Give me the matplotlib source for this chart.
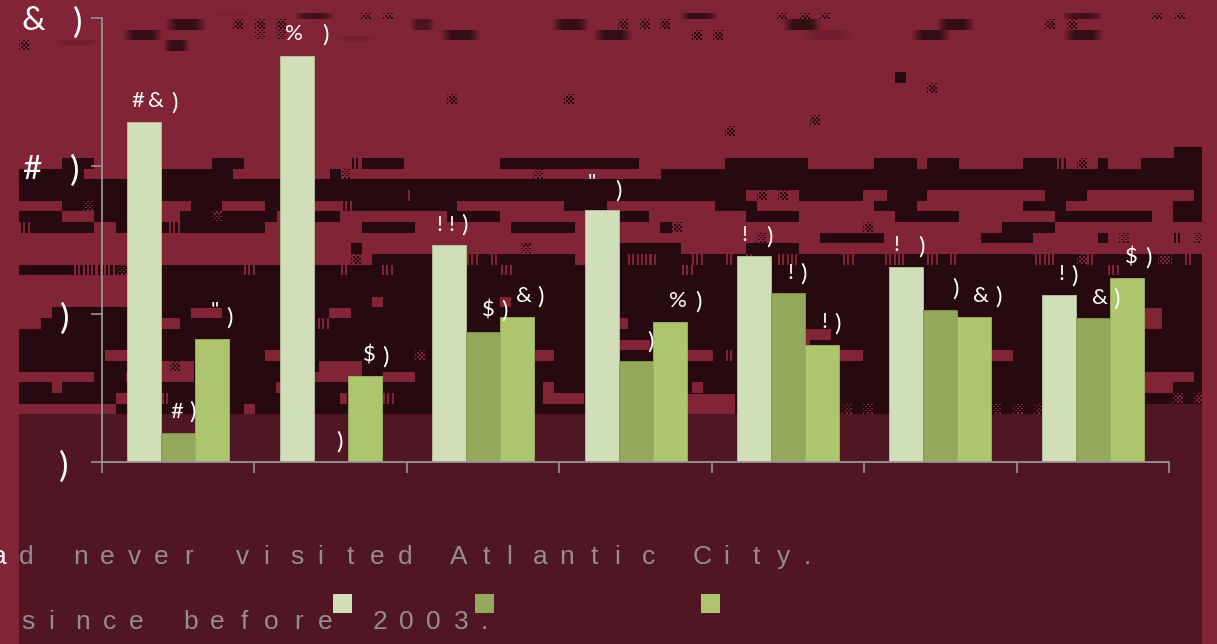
import numpy as np
import matplotlib
matplotlib.use("Agg")
import matplotlib.pyplot as plt
from matplotlib.patches import Rectangle
from matplotlib.collections import PatchCollection

# ---------- chart data (glyphs are shown garbled in the source) ----------
groups = list(range(7))
series_a = [22.95, 27.4, 14.65, 17.0, 13.9, 13.2, 11.3]
series_b = [1.95, 0.0, 8.8, 6.8, 11.4, 10.3, 9.7]
series_c = [8.3, 5.8, 9.8, 9.45, 7.9, 9.8, 12.4]
y_ticks = [0, 10, 20, 30]
caption_1 = "d never visited Atlantic City."
caption_2 = "since before 2003."

# ---------- styles ----------
CRIMSON, DARK, MAROON = "#812435", "#260a0f", "#501624"
C_A, C_B, C_C = "#d1dfb8", "#93a85c", "#adc66d"
AXIS = "#959595"
CAP = "#968d90"
W, H = 1217, 644

# ---------- label glyphs: (glyph, centre x px, centre y px) ----------
big_glyphs = [("&", 33.5, 21), (")", 78, 22.5), ("#", 32, 170), (")", 74.5, 171),
              (")", 65, 318.5), (")", 63.5, 467)]
bar_glyphs = [("#", 138, 101), ("&", 156, 101), (")", 174, 102.5),
              ("#", 177, 412), (")", 192.5, 412),
              ('"', 215, 311), (")", 229, 317.5),
              ("%", 293.5, 34), (")", 325.5, 35),
              (")", 339, 442),
              ("$", 369.5, 355), (")", 385.5, 356.5),
              ("!", 439, 225), ("!", 451, 225), (")", 464, 225),
              ("$", 488.5, 310), (")", 504.5, 311),
              ("&", 523.5, 296), (")", 540.5, 297),
              ('"', 592, 183), (")", 618.5, 190.5),
              (")", 650.5, 341.5),
              ("%", 678, 301), (")", 698, 302),
              ("!", 744, 235), (")", 769, 236.5),
              ("!", 790, 273), (")", 803, 274),
              ("!", 824, 322), (")", 837, 324),
              ("!", 896, 245), (")", 921.5, 246.5),
              (")", 955, 289),
              ("&", 980.5, 296), (")", 998, 297),
              ("!", 1061, 274), (")", 1074, 275.5),
              ("&", 1099.5, 298), (")", 1116, 299),
              ("$", 1131.5, 257), (")", 1148, 257.5)]

# ---------- glitch background, in pixels ----------
R0, RH = 147.3, 32 / 3
dark_rows = {
    0: [(1174, 1202)],
    1: [(62, 94), (212, 244), (362, 404), (500, 639), (725, 808), (874, 917), (927, 959),
        (1023, 1055), (1098, 1108), (1141, 1202)],
    2: [(19, 84), (161, 233), (330, 341), (661, 1202)],
    3: [(19, 1202)],
    4: [(19, 746), (799, 863), (887, 927), (1045, 1087), (1194, 1202)],
    5: [(62, 161), (191, 222), (265, 281), (341, 457), (564, 607), (715, 757), (874, 917),
        (1023, 1066), (1173, 1202)],
    6: [(19, 62), (94, 128), (180, 277), (314, 340), (447, 500), (619, 649), (746, 799),
        (895, 959), (1055, 1152), (1173, 1202)],
    7: [(19, 94), (116, 265), (362, 415), (511, 575), (660, 672), (1002, 1055)],
    8: [(820, 884), (981, 1033), (1098, 1108)],
    9: [(351, 362), (619, 681), (746, 799)],
    10: [(372, 575), (585, 1202)],
    11: [(19, 1202)],
}
crimson_rects = [(19, 128, 275.3, 307.3), (19, 52, 307.3, 318), (19, 41, 318, 329),
                 (105, 128, 350.3, 361), (161, 180, 318, 329), (191, 222, 307.6, 318),
                 (372, 383, 297, 307.3), (329, 351, 307.6, 318), (265, 281, 350, 361),
                 (161, 194, 361, 382), (19, 94, 372, 382), (52, 62, 382, 393),
                 (116, 128, 393, 403.7), (126, 128, 372, 382), (319, 362, 361, 372),
                 (314, 362, 372, 382), (383, 415, 372, 382), (276, 281, 382, 393),
                 (340, 347, 393, 403.7), (244, 255, 403.7, 414.3), (19, 116, 403.7, 414.3),
                 (500, 511, 297, 307.3), (535, 554, 350, 361), (687, 713, 350, 361),
                 (619, 628, 318, 329), (619, 650, 340, 350), (543, 554, 382, 393),
                 (543, 584, 393, 403.7), (692, 703, 382, 393), (687, 735, 393.7, 414.3),
                 (805, 831, 329, 340), (800, 810, 340, 345), (838, 863, 350, 361),
                 (991, 1013, 350, 361), (1143, 1162, 308, 329), (1143, 1194, 372, 382),
                 (1143, 1173, 382, 393)]
# stripes / checks: (x0, x1, y0, y1, kind)
dark_marks = [(352, 361, 158, 168.7, "s"), (340, 351, 168.7, 179.3, "c"), (533, 543, 168.7, 179.3, "c"),
              (757, 767, 158, 168.7, "c"), (800, 808, 158, 168.7, "s"), (789, 799, 168.7, 179.3, "c"),
              (757, 767, 190, 200.7, "c"), (778, 789, 190, 200.7, "c"), (672, 682, 222, 232.7, "c"),
              (715, 725, 200.7, 211.3, "s"), (756, 766, 232.7, 243.3, "c"), (521, 531, 243.3, 254, "c"),
              (660, 671, 243.3, 254, "s"), (351, 362, 254, 264.7, "c"), (351, 362, 243.3, 254, "s"),
              (927, 937, 158, 168.7, "s"), (1055, 1065, 158, 168.7, "s"), (1077, 1087, 158, 168.7, "c"),
              (803, 808, 158, 168.7, "s"), (1174, 1184, 147.3, 158, "s"), (887, 897, 190, 200.7, "s"),
              (863, 873, 222, 232.7, "c"), (863, 873, 232.7, 243.3, "s"), (1033, 1043, 222, 232.7, "s"),
              (1119, 1130, 232.7, 243.3, "c"), (1174, 1182, 232.7, 243.3, "s"),
              (1194, 1202, 232.7, 243.3, "c"), (170, 180, 361, 372, "c"),
              (233, 244, 19, 30, "c"), (255, 265, 19, 40, "c"), (276, 286, 19, 40, "c"),
              (19, 30, 40, 50, "c"), (361, 372, 13, 18, "c"), (383, 393, 13, 18, "c"),
              (618, 628, 19, 30, "c"), (640, 650, 19, 30, "c"), (660, 671, 19, 30, "c"),
              (692, 702, 30, 40, "c"), (713, 723, 30, 40, "c"), (777, 788, 13, 18, "c"),
              (800, 810, 13, 18, "c"), (820, 830, 13, 18, "c"), (1045, 1055, 19, 30, "c"),
              (1067, 1077, 19, 30, "c"), (1152, 1162, 13, 18, "c"), (1175, 1185, 13, 18, "c"),
              (447, 458, 94, 105, "c"), (564, 575, 94, 105, "c"), (725, 735, 126, 137, "c"),
              (810, 820, 115, 126, "c"), (927, 938, 83, 94, "c"), (895, 906, 72, 83, "f")]
crimson_marks = [(408, 411, 190, 200.7, "s"), (341, 351, 200.7, 211.3, "s"), (83, 94, 200.7, 211.3, "c"),
                 (212, 222, 211.3, 222, "c"), (19, 31, 222, 232.7, "s"), (169, 180, 222, 232.7, "s"),
                 (74, 117, 264.7, 275.3, "s"), (117, 127, 264.7, 275.3, "c"), (244, 255, 264.7, 275.3, "s"),
                 (341, 350, 264.7, 275.3, "s"), (382, 393, 264.7, 275.3, "s"), (318, 329, 318, 329, "s"),
                 (52, 62, 403.7, 414.3, "c"), (73, 84, 403.7, 414.3, "c"), (415, 426, 350, 361, "c"),
                 (162, 169, 393, 403.7, "s"), (383, 393, 393, 403.7, "s"), (467, 479, 254, 264.7, "s"),
                 (491, 499, 254, 264.7, "s"), (501, 511, 264.7, 275.3, "s"), (628, 659, 254, 264.7, "s"),
                 (692, 703, 254, 264.7, "s"), (682, 693, 264.7, 275.3, "s"), (726, 735, 254, 264.7, "s"),
                 (746, 755, 254, 264.7, "s"), (778, 800, 254, 264.7, "s"), (726, 734, 350, 361, "s"),
                 (885, 906, 254, 264.7, "s"), (927, 938, 254, 264.7, "s"), (950, 958, 254, 264.7, "s"),
                 (1035, 1055, 254, 264.7, "s"), (1077, 1087, 254, 264.7, "c"), (1087, 1096, 254, 264.7, "s"),
                 (1158, 1172, 254, 264.7, "c"), (1185, 1193, 254, 264.7, "s"), (1108, 1119, 264.7, 275.3, "s"),
                 (842, 853, 403.7, 414.3, "c"), (863, 874, 403.7, 414.3, "c"), (991, 1002, 403.7, 414.3, "c"),
                 (1013, 1024, 403.7, 414.3, "c"), (1034, 1042, 403.7, 414.3, "c"),
                 (1173, 1183, 393, 403.7, "c"), (1194, 1202, 393, 403.7, "c"), (843, 853, 254, 264.7, "s")]
# blurred smudges: (x0, x1, y0, y1, strength)
smudges = [(165, 207, 19, 30, 0.85), (122, 163, 30, 40, 0.85), (163, 190, 40, 51, 0.8), (293, 335, 13, 19, 0.7),
           (53, 100, 40, 45, 0.2), (335, 378, 36, 41, 0.15), (410, 435, 19, 30, 0.6),
           (440, 481, 30, 40, 0.85), (551, 590, 19, 30, 0.85), (593, 633, 30, 40, 0.85),
           (679, 719, 13, 19, 0.8), (782, 822, 19, 30, 0.85), (801, 855, 30, 40, 0.2),
           (911, 951, 30, 40, 0.85), (936, 975, 19, 30, 0.85), (1061, 1104, 13, 19, 0.7),
           (1063, 1104, 30, 40, 0.85), (215, 255, 13, 16, 0.1)]

fig = plt.figure(figsize=(W / 100, H / 100), dpi=100, facecolor=CRIMSON)


def overlay(z):
    a = fig.add_axes([0, 0, 1, 1], zorder=z)
    a.set_xlim(0, W)
    a.set_ylim(H, 0)
    a.axis("off")
    a.patch.set_alpha(0)
    return a


bg = overlay(0)
rects = [Rectangle((19, 414.3), 1183, H - 414.3, color=MAROON)]
bg.add_collection(PatchCollection(rects, match_original=True, linewidth=0))
dark = [Rectangle((19, R0 + 12 * RH), 1183, 414.3 - (R0 + 12 * RH), color=DARK)]
for r, spans in dark_rows.items():
    y0 = R0 + r * RH
    for a, b in spans:
        dark.append(Rectangle((a, y0), b - a, RH, color=DARK))
bg.add_collection(PatchCollection(dark, match_original=True, linewidth=0, zorder=1))
# right-hand edge of the lower dark block stays maroon below 403.7
bg.add_patch(Rectangle((1143, 403.7), 59, 10.6, color=MAROON, lw=0, zorder=1.5))
crim = [Rectangle((a, c), b - a, d - c, color=CRIMSON) for a, b, c, d in crimson_rects]
bg.add_collection(PatchCollection(crim, match_original=True, linewidth=0, zorder=2))


def draw_marks(marks, fg, z):
    out = []
    for x0, x1, y0, y1, kind in marks:
        if kind == "f":
            out.append(Rectangle((x0, y0), x1 - x0, y1 - y0, color=fg))
        elif kind == "s":
            for x in np.arange(x0, x1 - 1, 4.3):
                out.append(Rectangle((x, y0), 2.1, y1 - y0, color=fg))
        else:
            for i, x in enumerate(np.arange(x0, x1 - 0.5, 2.1)):
                for j, y in enumerate(np.arange(y0, y1 - 0.5, 2.1)):
                    if (i + j) % 2 == 0:
                        out.append(Rectangle((x, y), 1.4, 1.4, color=fg))
    bg.add_collection(PatchCollection(out, match_original=True, linewidth=0, zorder=z))


draw_marks(dark_marks, DARK, 3)
draw_marks(crimson_marks, CRIMSON, 3)

tone = np.array(matplotlib.colors.to_rgb(DARK))
for x0, x1, y0, y1, s in smudges:
    t = np.linspace(0, 1, 40)
    img = np.zeros((3, 40, 4))
    img[..., :3] = tone
    img[..., 3] = s * np.clip(np.sin(np.pi * t) * 1.25, 0, 1)
    bg.imshow(img, extent=(x0, x1, y1, y0), aspect="auto", interpolation="bilinear", zorder=3)
bg.set_xlim(0, W)
bg.set_ylim(H, 0)

# ---------- the chart ----------
ax = fig.add_axes([102 / W, (H - 462) / H, 1067 / W, 444 / H], zorder=1)
ax.patch.set_alpha(0)
w = 34 / (1067 / 7)
x = np.array(groups, dtype=float)
ax.bar(x - w, series_a, w, color=C_A, edgecolor="#b9c6a2", linewidth=0.6)
ax.bar(x, series_b, w, color=C_B, edgecolor="#849850", linewidth=0.6)
ax.bar(x + w, series_c, w, color=C_C, edgecolor="#9cb362", linewidth=0.6)
ax.set_xlim(-0.5, 6.5)
ax.set_ylim(0, 30)
for s in ("top", "right"):
    ax.spines[s].set_visible(False)
for s in ("left", "bottom"):
    ax.spines[s].set_color(AXIS)
    ax.spines[s].set_linewidth(1.3)
ax.set_yticks(y_ticks)
ax.set_xticks(np.arange(-0.5, 7, 1))
ax.tick_params(axis="both", length=7.8, width=1.2, color=AXIS, labelleft=False, labelbottom=False)

# ---------- text ----------
top = overlay(2)
for g, xx, yy in big_glyphs:
    top.text(xx, yy, g, family="Lato", fontsize=25.5 if g == ")" else 24, color="white",
             ha="center", va="center")
for g, xx, yy in bar_glyphs:
    top.text(xx, yy, g, family="Lato", fontsize=17.5 if g == ")" else 16, color="white",
             ha="center", va="center")


def spaced(text, x0, base, color=CAP):
    for i, ch in enumerate(text):
        if ch == " ":
            continue
        dx = -3.5 if ch in "il." else 0
        top.text(x0 + i * 27.05 + dx, base, ch, family="Liberation Sans", fontsize=19, color=color,
                 ha="center", va="baseline")


spaced(caption_1, 26, 564)
spaced(caption_2, 28, 629)
top.text(-1, 564, "a", family="Liberation Sans", fontsize=19, color="white", ha="center", va="baseline")

for x0, c in zip((333, 475, 701), (C_A, C_B, C_C)):
    top.add_patch(Rectangle((x0, 594), 19, 19, color=c, lw=0))

fig.savefig("out.png", dpi=100, facecolor=CRIMSON)
